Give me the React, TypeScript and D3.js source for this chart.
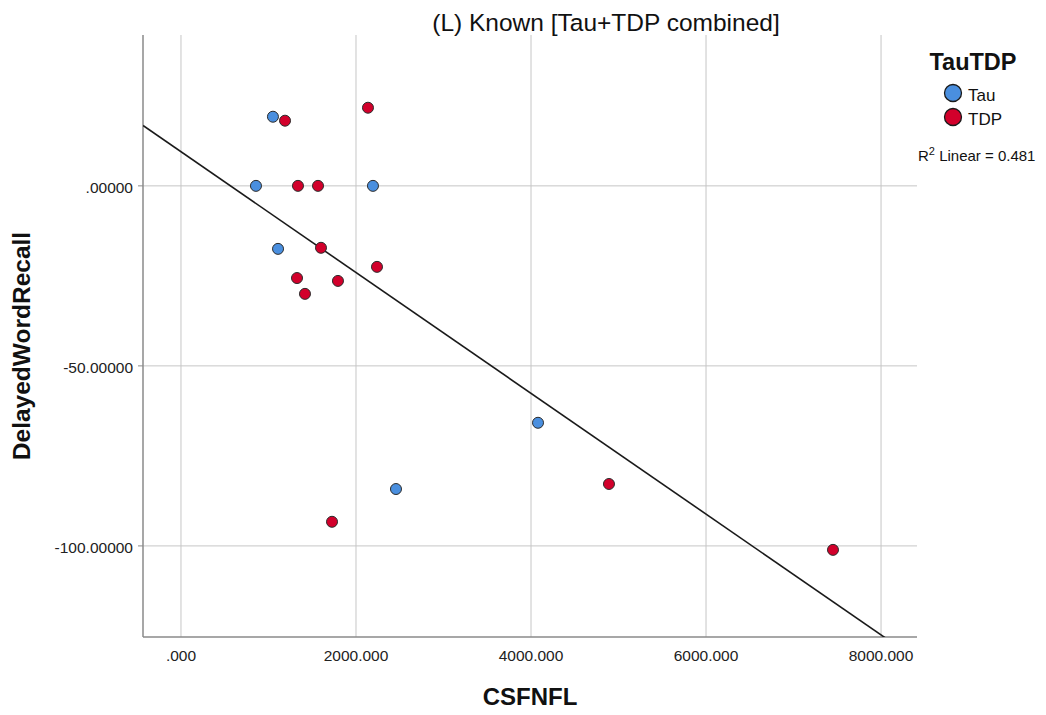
import React, { useEffect, useRef } from 'react';
import * as d3 from 'd3';

// values
const tauX = [1051, 857, 2194, 1109, 4080, 2457];
const tauY = [19.2, 0, 0, -17.5, -65.8, -84.2];
const tdpX = [1189, 2137, 1337, 1566, 1600, 2240, 1326, 1417, 1794, 1726, 4891, 7451];
const tdpY = [18.1, 21.7, 0, 0, -17.2, -22.5, -25.6, -30, -26.4, -93.3, -82.8, -101.1];
const xTicks = [0, 2000, 4000, 6000, 8000];
const yTicks = [0, -50, -100];
const groups = ['Tau', 'TDP'];
const groupColors = ['#4a8fdf', '#d2002b'];

const W = 1046;
const H = 715;

export default function App() {
  const ref = useRef<SVGSVGElement>(null);

  useEffect(() => {
    const svg = d3.select(ref.current);
    svg.selectAll('*').remove();
    const font = '"Liberation Sans", Arial, sans-serif';

    const left = 143, right = 917, top = 35, bottom = 637;
    const x = d3.scaleLinear().domain([-434, 8411]).range([left, right]);
    const y = d3.scaleLinear().domain([-125.3, 41.9]).range([bottom, top]);

    svg.append('defs').append('clipPath').attr('id', 'plotclip')
      .append('rect').attr('x', left).attr('y', top)
      .attr('width', right - left).attr('height', bottom - top);

    // grid
    svg.append('g').selectAll('line').data(xTicks).enter().append('line')
      .attr('x1', (d) => x(d)).attr('x2', (d) => x(d))
      .attr('y1', top).attr('y2', bottom)
      .attr('stroke', '#c6c6c6').attr('stroke-width', 1);
    svg.append('g').selectAll('line').data(yTicks).enter().append('line')
      .attr('x1', left).attr('x2', right)
      .attr('y1', (d) => y(d)).attr('y2', (d) => y(d))
      .attr('stroke', '#c6c6c6').attr('stroke-width', 1);

    // axes lines
    svg.append('line').attr('x1', left).attr('x2', left).attr('y1', top).attr('y2', bottom)
      .attr('stroke', '#8a8a8a').attr('stroke-width', 1.5);
    svg.append('line').attr('x1', left).attr('x2', right).attr('y1', bottom).attr('y2', bottom)
      .attr('stroke', '#8a8a8a').attr('stroke-width', 1.5);

    // y ticks
    svg.append('g').selectAll('line').data(yTicks).enter().append('line')
      .attr('x1', left - 5).attr('x2', left)
      .attr('y1', (d) => y(d)).attr('y2', (d) => y(d))
      .attr('stroke', '#8a8a8a');

    const fmtY = (d: number) => (d === 0 ? '.00000' : d3.format('.5f')(d).replace('−', '-'));
    const fmtX = (d: number) => (d === 0 ? '.000' : d3.format('.3f')(d));

    svg.append('g').selectAll('text').data(yTicks).enter().append('text')
      .attr('x', left - 10).attr('y', (d) => y(d) + 7)
      .attr('text-anchor', 'end')
      .style('font-family', font).style('font-size', '15.5px').style('fill', '#222')
      .text(fmtY);
    svg.append('g').selectAll('text').data(xTicks).enter().append('text')
      .attr('x', (d) => x(d)).attr('y', 661)
      .attr('text-anchor', 'middle')
      .style('font-family', font).style('font-size', '15.5px').style('fill', '#222')
      .text(fmtX);

    // regression line from the data
    const allX = tauX.concat(tdpX);
    const allY = tauY.concat(tdpY);
    const mx = d3.mean(allX) as number;
    const my = d3.mean(allY) as number;
    let sxy = 0, sxx = 0;
    allX.forEach((v, i) => {
      sxy += (v - mx) * (allY[i] - my);
      sxx += (v - mx) * (v - mx);
    });
    const slope = sxy / sxx;
    const icpt = my - slope * mx;
    const [x0, x1] = x.domain();
    svg.append('line')
      .attr('clip-path', 'url(#plotclip)')
      .attr('x1', x(x0)).attr('y1', y(icpt + slope * x0))
      .attr('x2', x(x1)).attr('y2', y(icpt + slope * x1))
      .attr('stroke', '#1a1a1a').attr('stroke-width', 1.6);

    // points
    const series = [
      { xs: tauX, ys: tauY, color: groupColors[0] },
      { xs: tdpX, ys: tdpY, color: groupColors[1] },
    ];
    series.forEach((s) => {
      svg.append('g').selectAll('circle').data(s.xs).enter().append('circle')
        .attr('cx', (d) => x(d))
        .attr('cy', (d, i) => y(s.ys[i]))
        .attr('r', 5.5)
        .attr('fill', s.color)
        .attr('stroke', '#2b2b2b').attr('stroke-width', 1);
    });

    // titles
    svg.append('text').attr('x', 606).attr('y', 31).attr('text-anchor', 'middle')
      .style('font-family', font).style('font-size', '24.5px').style('fill', '#111')
      .text('(L) Known [Tau+TDP combined]');
    svg.append('text').attr('x', 530).attr('y', 705).attr('text-anchor', 'middle')
      .style('font-family', font).style('font-size', '24px').style('font-weight', 'bold').style('fill', '#111')
      .text('CSFNFL');
    svg.append('text').attr('transform', 'translate(30,346) rotate(-90)').attr('text-anchor', 'middle')
      .style('font-family', font).style('font-size', '24.5px').style('font-weight', 'bold').style('fill', '#111')
      .text('DelayedWordRecall');

    // legend
    svg.append('text').attr('x', 973).attr('y', 70).attr('text-anchor', 'middle')
      .style('font-family', font).style('font-size', '23.5px').style('font-weight', 'bold').style('fill', '#111')
      .text('TauTDP');
    const lg = svg.append('g').selectAll('g').data(groups).enter().append('g')
      .attr('transform', (d, i) => `translate(953,${93 + i * 24})`);
    lg.append('circle').attr('r', 8.5).attr('fill', (d, i) => groupColors[i])
      .attr('stroke', '#1a1a1a').attr('stroke-width', 1.3);
    lg.append('text').attr('x', 15).attr('y', 8)
      .style('font-family', font).style('font-size', '17px').style('fill', '#111')
      .text((d) => d);

    const r2 = svg.append('text').attr('x', 918).attr('y', 161)
      .style('font-family', font).style('font-size', '15px').style('fill', '#111');
    r2.append('tspan').text('R');
    r2.append('tspan').attr('dy', -6).style('font-size', '11px').text('2');
    r2.append('tspan').attr('dy', 6).text(' Linear = 0.481');
  }, []);

  return <svg ref={ref} width={W} height={H} style={{ display: 'block', position: 'absolute', left: 0, top: 0, background: '#fff' }} />;
}
